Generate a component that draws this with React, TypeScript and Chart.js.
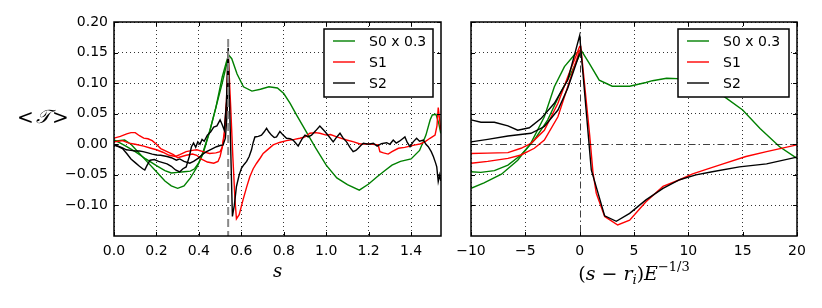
import React, { useEffect, useRef } from 'react';
import { Chart, registerables } from 'chart.js';

Chart.register(...registerables);

// ---------- tick labels / categories ----------
const S_TICKS = [0, 0.2, 0.4, 0.6, 0.8, 1.0, 1.2, 1.4];
const U_TICKS = [-10, -5, 0, 5, 10, 15, 20];
const T_TICKS = [-0.1, -0.05, 0, 0.05, 0.1, 0.15, 0.2];
const LABELS = ['S0 x 0.3', 'S1', 'S2'];
const COLORS = ['#008000', '#ff0000', '#000000'];
const S_INTERFACE = 0.538;

// ---------- left panel: <T> vs s ----------
const s0aS = [0, 0.02, 0.05, 0.08, 0.12, 0.16, 0.2, 0.24, 0.27, 0.3, 0.33, 0.36, 0.39, 0.42, 0.45, 0.48, 0.51, 0.53, 0.54, 0.555, 0.58, 0.61, 0.65, 0.69, 0.73, 0.77, 0.8, 0.83, 0.86, 0.89, 0.92, 0.95, 1.0, 1.05, 1.1, 1.156, 1.2, 1.24, 1.28, 1.31, 1.35, 1.4, 1.44, 1.47, 1.49, 1.5, 1.517, 1.53, 1.54];
const s0aT = [0.005, 0.006, 0.007, 0.0, -0.015, -0.03, -0.045, -0.06, -0.068, -0.072, -0.068, -0.055, -0.038, -0.015, 0.02, 0.06, 0.11, 0.135, 0.146, 0.14, 0.115, 0.094, 0.087, 0.09, 0.094, 0.092, 0.083, 0.067, 0.048, 0.03, 0.012, -0.006, -0.034, -0.055, -0.066, -0.075, -0.065, -0.053, -0.042, -0.034, -0.028, -0.024, -0.01, 0.015, 0.04, 0.048, 0.049, 0.035, 0.018];
const s0bS = [0, 0.03, 0.06, 0.1, 0.15, 0.2, 0.24, 0.27, 0.3, 0.33, 0.36, 0.38, 0.4, 0.42, 0.45, 0.48, 0.51, 0.53, 0.54];
const s0bT = [0.007, 0.002, -0.004, -0.012, -0.024, -0.035, -0.043, -0.047, -0.046, -0.045, -0.044, -0.04, -0.03, -0.012, 0.02, 0.06, 0.1, 0.13, 0.142];

const s1aS = [0, 0.03, 0.06, 0.08, 0.1, 0.12, 0.14, 0.16, 0.18, 0.2, 0.22, 0.25, 0.28, 0.3, 0.32, 0.34, 0.37, 0.39, 0.41, 0.44, 0.47, 0.49, 0.5, 0.51, 0.52, 0.53, 0.538, 0.55, 0.56, 0.57, 0.577, 0.59, 0.608, 0.625, 0.64, 0.656, 0.672, 0.69, 0.703, 0.72, 0.75, 0.78, 0.813, 0.85, 0.876, 0.9, 0.923, 0.95, 0.97, 1.0, 1.02, 1.05, 1.096, 1.13, 1.159, 1.206, 1.245, 1.253, 1.27, 1.292, 1.31, 1.34, 1.37, 1.395, 1.42, 1.442, 1.465, 1.489, 1.513, 1.522, 1.528, 1.533, 1.54];
const s1aT = [0.01, 0.013, 0.017, 0.019, 0.019, 0.014, 0.01, 0.009, 0.006, 0.0, -0.007, -0.012, -0.017, -0.022, -0.02, -0.018, -0.016, -0.018, -0.024, -0.029, -0.031, -0.028, -0.02, -0.005, 0.02, 0.07, 0.15, 0.06, -0.02, -0.09, -0.122, -0.115, -0.091, -0.07, -0.053, -0.04, -0.031, -0.022, -0.015, -0.01, -0.001, 0.003, 0.006, 0.008, 0.0098, 0.012, 0.018, 0.019, 0.018, 0.015, 0.016, 0.012, 0.007, 0.004, 0.0005, 0.0005, -0.001, -0.012, -0.014, -0.016, -0.012, -0.0065, -0.005, -0.003, -0.001, 0.0005, 0.004, 0.0098, 0.015, 0.03, 0.06, 0.045, 0.023];
const s1bS = [0, 0.02, 0.04, 0.07, 0.1, 0.14, 0.17, 0.2, 0.23, 0.26, 0.29, 0.31, 0.34, 0.37, 0.39, 0.42, 0.45, 0.48, 0.5, 0.51, 0.52, 0.53, 0.538];
const s1bT = [0.004, 0.005, 0.006, 0.002, 0.0, -0.003, -0.006, -0.009, -0.013, -0.018, -0.02, -0.017, -0.012, -0.01, -0.009, -0.012, -0.015, -0.014, -0.012, -0.005, 0.015, 0.06, 0.135];

const s2aS = [0, 0.02, 0.04, 0.06, 0.08, 0.1, 0.12, 0.135, 0.145, 0.155, 0.17, 0.19, 0.21, 0.23, 0.25, 0.27, 0.29, 0.31, 0.325, 0.34, 0.355, 0.365, 0.375, 0.385, 0.395, 0.405, 0.415, 0.425, 0.44, 0.455, 0.47, 0.485, 0.5, 0.51, 0.52, 0.53, 0.538, 0.548, 0.558, 0.567, 0.577, 0.59, 0.601, 0.613, 0.625, 0.637, 0.648, 0.656, 0.664, 0.68, 0.695, 0.707, 0.719, 0.73, 0.742, 0.755, 0.766, 0.782, 0.797, 0.813, 0.83, 0.844, 0.856, 0.868, 0.885, 0.9, 0.915, 0.931, 0.95, 0.97, 0.994, 1.015, 1.033, 1.05, 1.065, 1.08, 1.096, 1.112, 1.127, 1.14, 1.151, 1.163, 1.175, 1.2, 1.222, 1.24, 1.26, 1.285, 1.3, 1.316, 1.33, 1.345, 1.36, 1.371, 1.382, 1.395, 1.41, 1.426, 1.44, 1.458, 1.47, 1.481, 1.495, 1.505, 1.515, 1.521, 1.528, 1.535, 1.54];
const s2aT = [-0.001, -0.004, -0.007, -0.015, -0.024, -0.03, -0.036, -0.04, -0.042, -0.035, -0.026, -0.025, -0.028, -0.03, -0.032, -0.036, -0.042, -0.045, -0.04, -0.037, -0.02, -0.004, 0.002, -0.005, 0.004, 0.0, 0.008, 0.005, 0.015, 0.02, 0.028, 0.03, 0.04, 0.032, 0.023, 0.07, 0.158, 0.02, -0.118, -0.1, -0.069, -0.05, -0.039, -0.033, -0.028, -0.02, -0.009, 0.003, 0.012, 0.013, 0.015, 0.02, 0.026, 0.02, 0.015, 0.011, 0.012, 0.021, 0.015, 0.0098, 0.009, 0.007, 0.002, -0.003, 0.008, 0.015, 0.012, 0.015, 0.022, 0.03, 0.021, 0.012, 0.004, 0.012, 0.018, 0.01, 0.004, -0.005, -0.012, -0.01, -0.0065, -0.002, 0.0016, 0.0, 0.0016, -0.003, 0.001, 0.0026, 0.0, 0.007, 0.002, 0.005, 0.009, 0.012, 0.003, -0.004, 0.004, 0.0098, 0.005, 0.007, 0.0, -0.004, -0.012, -0.02, -0.03, -0.037, -0.061, -0.05, -0.06];
const s2bS = [0, 0.02, 0.04, 0.058, 0.08, 0.1, 0.12, 0.137, 0.16, 0.18, 0.2, 0.22, 0.25, 0.27, 0.294, 0.31, 0.33, 0.357, 0.375, 0.396, 0.415, 0.436, 0.46, 0.483, 0.5, 0.514, 0.525, 0.533, 0.538];
const s2bT = [-0.001, -0.003, -0.006, -0.009, -0.01, -0.011, -0.011, -0.012, -0.014, -0.016, -0.0175, -0.018, -0.02, -0.022, -0.026, -0.024, -0.028, -0.031, -0.028, -0.023, -0.017, -0.012, -0.008, -0.004, -0.002, -0.001, 0.01, 0.05, 0.12];

// ---------- right panel: <T> vs (s - r_i) E^(-1/3) ----------
const r0aU = [-10, -8.8, -7.2, -5.7, -4.5, -3.25, -2.33, -1.4, -0.5, 0.1, 0.9, 1.8, 3.0, 4.6, 6.1, 6.7, 8.0, 9.5, 10.1, 11.0, 12.0, 13.3, 15.0, 16.6, 18.4, 20];
const r0aT = [-0.072, -0.063, -0.049, -0.026, 0.0016, 0.045, 0.094, 0.127, 0.146, 0.155, 0.132, 0.105, 0.095, 0.095, 0.101, 0.104, 0.108, 0.107, 0.106, 0.102, 0.094, 0.078, 0.056, 0.026, -0.004, -0.023];
const r0bU = [-10, -9.1, -7.85, -6.6, -5.4, -4.17, -2.94, -1.72, -0.8, 0];
const r0bT = [-0.045, -0.046, -0.043, -0.034, -0.0175, 0.007, 0.04, 0.086, 0.116, 0.146];

const r1aU = [-10, -8.5, -6.6, -5.4, -4.48, -3.25, -2.0, -1.1, 0, 0.1, 0.92, 1.23, 1.53, 2.3, 3.5, 4.6, 6.1, 7.67, 9.2, 10.4, 11.65, 13.2, 15.3, 17.2, 20];
const r1aT = [-0.015, -0.0145, -0.0137, -0.0065, 0.0016, 0.023, 0.067, 0.11, 0.16, 0.16, 0.015, -0.047, -0.08, -0.118, -0.132, -0.124, -0.094, -0.069, -0.058, -0.0485, -0.041, -0.032, -0.02, -0.012, -0.001];
const r1bU = [-10, -8.46, -6.6, -5.4, -4.17, -3.25, -2.0, -1.1, 0];
const r1bT = [-0.031, -0.028, -0.023, -0.0175, -0.0065, 0.007, 0.045, 0.094, 0.154];

const r2aU = [-10, -9.08, -7.85, -6.6, -5.7, -4.63, -3.56, -2.33, -1.1, 0, 1.07, 2.3, 3.37, 4.6, 6.1, 7.67, 9.2, 10.7, 12.2, 14.7, 17.2, 20];
const r2aT = [0.04, 0.036, 0.036, 0.03, 0.023, 0.027, 0.042, 0.067, 0.105, 0.178, -0.042, -0.117, -0.126, -0.113, -0.091, -0.072, -0.058, -0.05, -0.045, -0.037, -0.032, -0.021];
const r2bU = [-10, -8.46, -6.6, -4.48, -3.25, -2.0, -1.1, 0];
const r2bT = [0.004, 0.008, 0.0135, 0.018, 0.029, 0.056, 0.0915, 0.149];

const W = 822;
const H = 308;
const FONT = '"DejaVu Sans", sans-serif';
const MATH = '"DejaVu Serif", "Liberation Serif", serif';

function pts(xs: number[], ys: number[]) {
  return xs.map((x, i) => ({ x, y: ys[i] }));
}

function minus(str: string) {
  return str.replace('-', '\u2212');
}

function ds(xs: number[], ys: number[], ci: number) {
  return {
    data: pts(xs, ys),
    borderColor: COLORS[ci],
    backgroundColor: COLORS[ci],
    borderWidth: 1.4,
    pointRadius: 0,
    showLine: true,
    fill: false,
    tension: 0,
    order: 3 - ci,
  };
}

type PanelOpts = {
  xTicks: number[];
  legendW: number;
  refLines: (chart: any) => void;
  titles: (chart: any) => void;
};

function decorPlugin(p: PanelOpts) {
  return {
    id: 'decor',
    afterDatasetsDraw(chart: any) {
      p.refLines(chart);
    },
    afterDraw(chart: any) {
      const ctx = chart.ctx as CanvasRenderingContext2D;
      const { left, right, top, bottom } = chart.chartArea;
      const xs = chart.scales.x;
      const ys = chart.scales.y;
      ctx.save();
      // inward ticks
      ctx.strokeStyle = '#000';
      ctx.lineWidth = 1;
      ctx.beginPath();
      p.xTicks.forEach((v) => {
        const px = Math.round(xs.getPixelForValue(v)) + 0.5;
        ctx.moveTo(px, bottom);
        ctx.lineTo(px, bottom - 4);
        ctx.moveTo(px, top);
        ctx.lineTo(px, top + 4);
      });
      T_TICKS.forEach((v) => {
        const py = Math.round(ys.getPixelForValue(v)) + 0.5;
        ctx.moveTo(left, py);
        ctx.lineTo(left + 4, py);
        ctx.moveTo(right, py);
        ctx.lineTo(right - 4, py);
      });
      ctx.stroke();
      // frame
      ctx.lineWidth = 1.5;
      ctx.strokeRect(left, top, right - left, bottom - top);
      // legend
      const bx1 = right - 8;
      const bx0 = bx1 - p.legendW;
      const by0 = top + 7;
      const by1 = by0 + 68;
      ctx.fillStyle = '#fff';
      ctx.fillRect(bx0, by0, bx1 - bx0, by1 - by0);
      ctx.lineWidth = 1.5;
      ctx.strokeStyle = '#000';
      ctx.strokeRect(bx0, by0, bx1 - bx0, by1 - by0);
      ctx.font = `14px ${FONT}`;
      ctx.textBaseline = 'middle';
      ctx.textAlign = 'left';
      LABELS.forEach((lab, i) => {
        const y = by0 + 12 + i * 21;
        ctx.strokeStyle = COLORS[i];
        ctx.lineWidth = 1.4;
        ctx.beginPath();
        ctx.moveTo(bx0 + 9, y);
        ctx.lineTo(bx0 + 31, y);
        ctx.stroke();
        ctx.fillStyle = '#000';
        ctx.fillText(lab, bx0 + 45, y + 1);
      });
      p.titles(chart);
      ctx.restore();
    },
  };
}

function yScale(width: number, showLabels: boolean) {
  return {
    type: 'linear',
    min: -0.15,
    max: 0.2,
    afterBuildTicks: (s: any) => {
      s.ticks = T_TICKS.map((v) => ({ value: v }));
    },
    afterFit: (s: any) => {
      s.width = width;
    },
    grid: {
      color: 'rgba(0,0,0,0.8)',
      lineWidth: 1,
      drawTicks: false,
    },
    border: { display: false, dash: [1, 3] },
    ticks: {
      display: showLabels,
      padding: 6,
      color: '#000',
      font: { family: FONT, size: 14 },
      callback: (v: number) => minus(v.toFixed(2)),
    },
  };
}

function xScale(min: number, max: number, ticks: number[], fmt: (v: number) => string, hideZero: boolean) {
  return {
    type: 'linear',
    min,
    max,
    afterBuildTicks: (s: any) => {
      s.ticks = ticks.map((v) => ({ value: v }));
    },
    afterFit: (s: any) => {
      s.height = 72;
    },
    grid: {
      color: (c: any) => (hideZero && c.tick && c.tick.value === 0 ? 'rgba(0,0,0,0)' : 'rgba(0,0,0,0.8)'),
      lineWidth: 1,
      drawTicks: false,
    },
    border: { display: false, dash: [1, 3] },
    ticks: {
      padding: 7,
      color: '#000',
      maxRotation: 0,
      autoSkip: false,
      font: { family: FONT, size: 14 },
      callback: (v: number) => fmt(v),
    },
  };
}

function drawYLabel(ctx: CanvasRenderingContext2D) {
  ctx.fillStyle = '#000';
  ctx.textBaseline = 'middle';
  ctx.textAlign = 'left';
  ctx.font = `20px ${MATH}`;
  ctx.fillText('<', 17, 119);
  ctx.font = `italic 19px ${MATH}`;
  ctx.fillText('\u{1D4AF}', 36, 118);
  ctx.font = `20px ${MATH}`;
  ctx.fillText('>', 52, 119);
}

function leftTitles(chart: any) {
  const ctx = chart.ctx as CanvasRenderingContext2D;
  const { left, right } = chart.chartArea;
  ctx.fillStyle = '#000';
  ctx.textBaseline = 'alphabetic';
  ctx.textAlign = 'center';
  ctx.font = `italic 18px ${MATH}`;
  ctx.fillText('s', (left + right) / 2, 277);
  drawYLabel(ctx);
}

function rightTitles(chart: any) {
  const ctx = chart.ctx as CanvasRenderingContext2D;
  const { left, right } = chart.chartArea;
  const base = 280;
  const big = 19;
  const small = 13;
  const parts: { t: string; f: string; dy: number }[] = [
    { t: '(', f: `${big}px ${MATH}`, dy: 0 },
    { t: 's', f: `italic ${big}px ${MATH}`, dy: 0 },
    { t: ' \u2212 ', f: `${big}px ${MATH}`, dy: 0 },
    { t: 'r', f: `italic ${big}px ${MATH}`, dy: 0 },
    { t: 'i', f: `italic ${small}px ${MATH}`, dy: 4 },
    { t: ')', f: `${big}px ${MATH}`, dy: 0 },
    { t: 'E', f: `italic ${big}px ${MATH}`, dy: 0 },
    { t: '\u22121/3', f: `${small}px ${MATH}`, dy: -9 },
  ];
  let total = 0;
  const widths = parts.map((p) => {
    ctx.font = p.f;
    const w = ctx.measureText(p.t).width;
    total += w;
    return w;
  });
  let x = (left + right) / 2 - total / 2;
  ctx.fillStyle = '#000';
  ctx.textBaseline = 'alphabetic';
  ctx.textAlign = 'left';
  parts.forEach((p, i) => {
    ctx.font = p.f;
    ctx.fillText(p.t, x, base + p.dy);
    x += widths[i];
  });
}

function leftRef(chart: any) {
  const ctx = chart.ctx as CanvasRenderingContext2D;
  const xs = chart.scales.x;
  const ys = chart.scales.y;
  const px = xs.getPixelForValue(S_INTERFACE);
  ctx.save();
  ctx.strokeStyle = '#888888';
  ctx.lineWidth = 2;
  ctx.setLineDash([8, 4]);
  ctx.beginPath();
  ctx.moveTo(px, ys.getPixelForValue(0.172));
  ctx.lineTo(px, chart.chartArea.bottom);
  ctx.stroke();
  ctx.restore();
}

function rightRef(chart: any) {
  const ctx = chart.ctx as CanvasRenderingContext2D;
  const xs = chart.scales.x;
  const ys = chart.scales.y;
  const { left, right, top, bottom } = chart.chartArea;
  const px = Math.round(xs.getPixelForValue(0)) + 0.5;
  const py = Math.round(ys.getPixelForValue(0)) + 0.5;
  ctx.save();
  ctx.strokeStyle = 'rgba(0,0,0,0.75)';
  ctx.lineWidth = 1;
  ctx.setLineDash([7, 3, 1.5, 3]);
  ctx.beginPath();
  ctx.moveTo(left, py);
  ctx.lineTo(right, py);
  ctx.moveTo(px, top);
  ctx.lineTo(px, bottom);
  ctx.stroke();
  ctx.restore();
}

export default function App() {
  const leftRefEl = useRef<HTMLCanvasElement>(null);
  const rightRefEl = useRef<HTMLCanvasElement>(null);

  useEffect(() => {
    document.body.style.margin = '0';
    const common = {
      animation: false,
      responsive: false,
      devicePixelRatio: 1,
      plugins: { legend: { display: false }, tooltip: { enabled: false }, title: { display: false } },
      events: [],
    };
    const c1 = new Chart(leftRefEl.current as HTMLCanvasElement, {
      type: 'scatter',
      data: {
        datasets: [
          ds(s0aS, s0aT, 0),
          ds(s0bS, s0bT, 0),
          ds(s1aS, s1aT, 1),
          ds(s1bS, s1bT, 1),
          ds(s2aS, s2aT, 2),
          ds(s2bS, s2bT, 2),
        ],
      },
      options: {
        ...common,
        layout: { padding: { left: 0, top: 22, right: W - 441, bottom: 0 } },
        scales: {
          x: xScale(0, 1.541, S_TICKS, (v) => v.toFixed(1), false),
          y: yScale(114, true),
        },
      },
      plugins: [decorPlugin({ xTicks: S_TICKS, legendW: 109, refLines: leftRef, titles: leftTitles })],
    } as any);
    const c2 = new Chart(rightRefEl.current as HTMLCanvasElement, {
      type: 'scatter',
      data: {
        datasets: [
          ds(r0aU, r0aT, 0),
          ds(r0bU, r0bT, 0),
          ds(r1aU, r1aT, 1),
          ds(r1bU, r1bT, 1),
          ds(r2aU, r2aT, 2),
          ds(r2bU, r2bT, 2),
        ],
      },
      options: {
        ...common,
        layout: { padding: { left: 0, top: 22, right: W - 797, bottom: 0 } },
        scales: {
          x: xScale(-10, 20, U_TICKS, (v) => minus(String(Math.round(v))), true),
          y: {
            ...yScale(471, false),
            grid: {
              color: (c: any) => (c.tick && Math.abs(c.tick.value) < 1e-9 ? 'rgba(0,0,0,0)' : 'rgba(0,0,0,0.8)'),
              lineWidth: 1,
              drawTicks: false,
            },
          },
        },
      },
      plugins: [decorPlugin({ xTicks: U_TICKS, legendW: 111, refLines: rightRef, titles: rightTitles })],
    } as any);
    return () => {
      c1.destroy();
      c2.destroy();
    };
  }, []);

  return (
    <div style={{ position: 'absolute', left: 0, top: 0, width: W, height: H, background: '#fff' }}>
      <canvas ref={leftRefEl} width={W} height={H} style={{ position: 'absolute', left: 0, top: 0 }} />
      <canvas ref={rightRefEl} width={W} height={H} style={{ position: 'absolute', left: 0, top: 0 }} />
    </div>
  );
}
